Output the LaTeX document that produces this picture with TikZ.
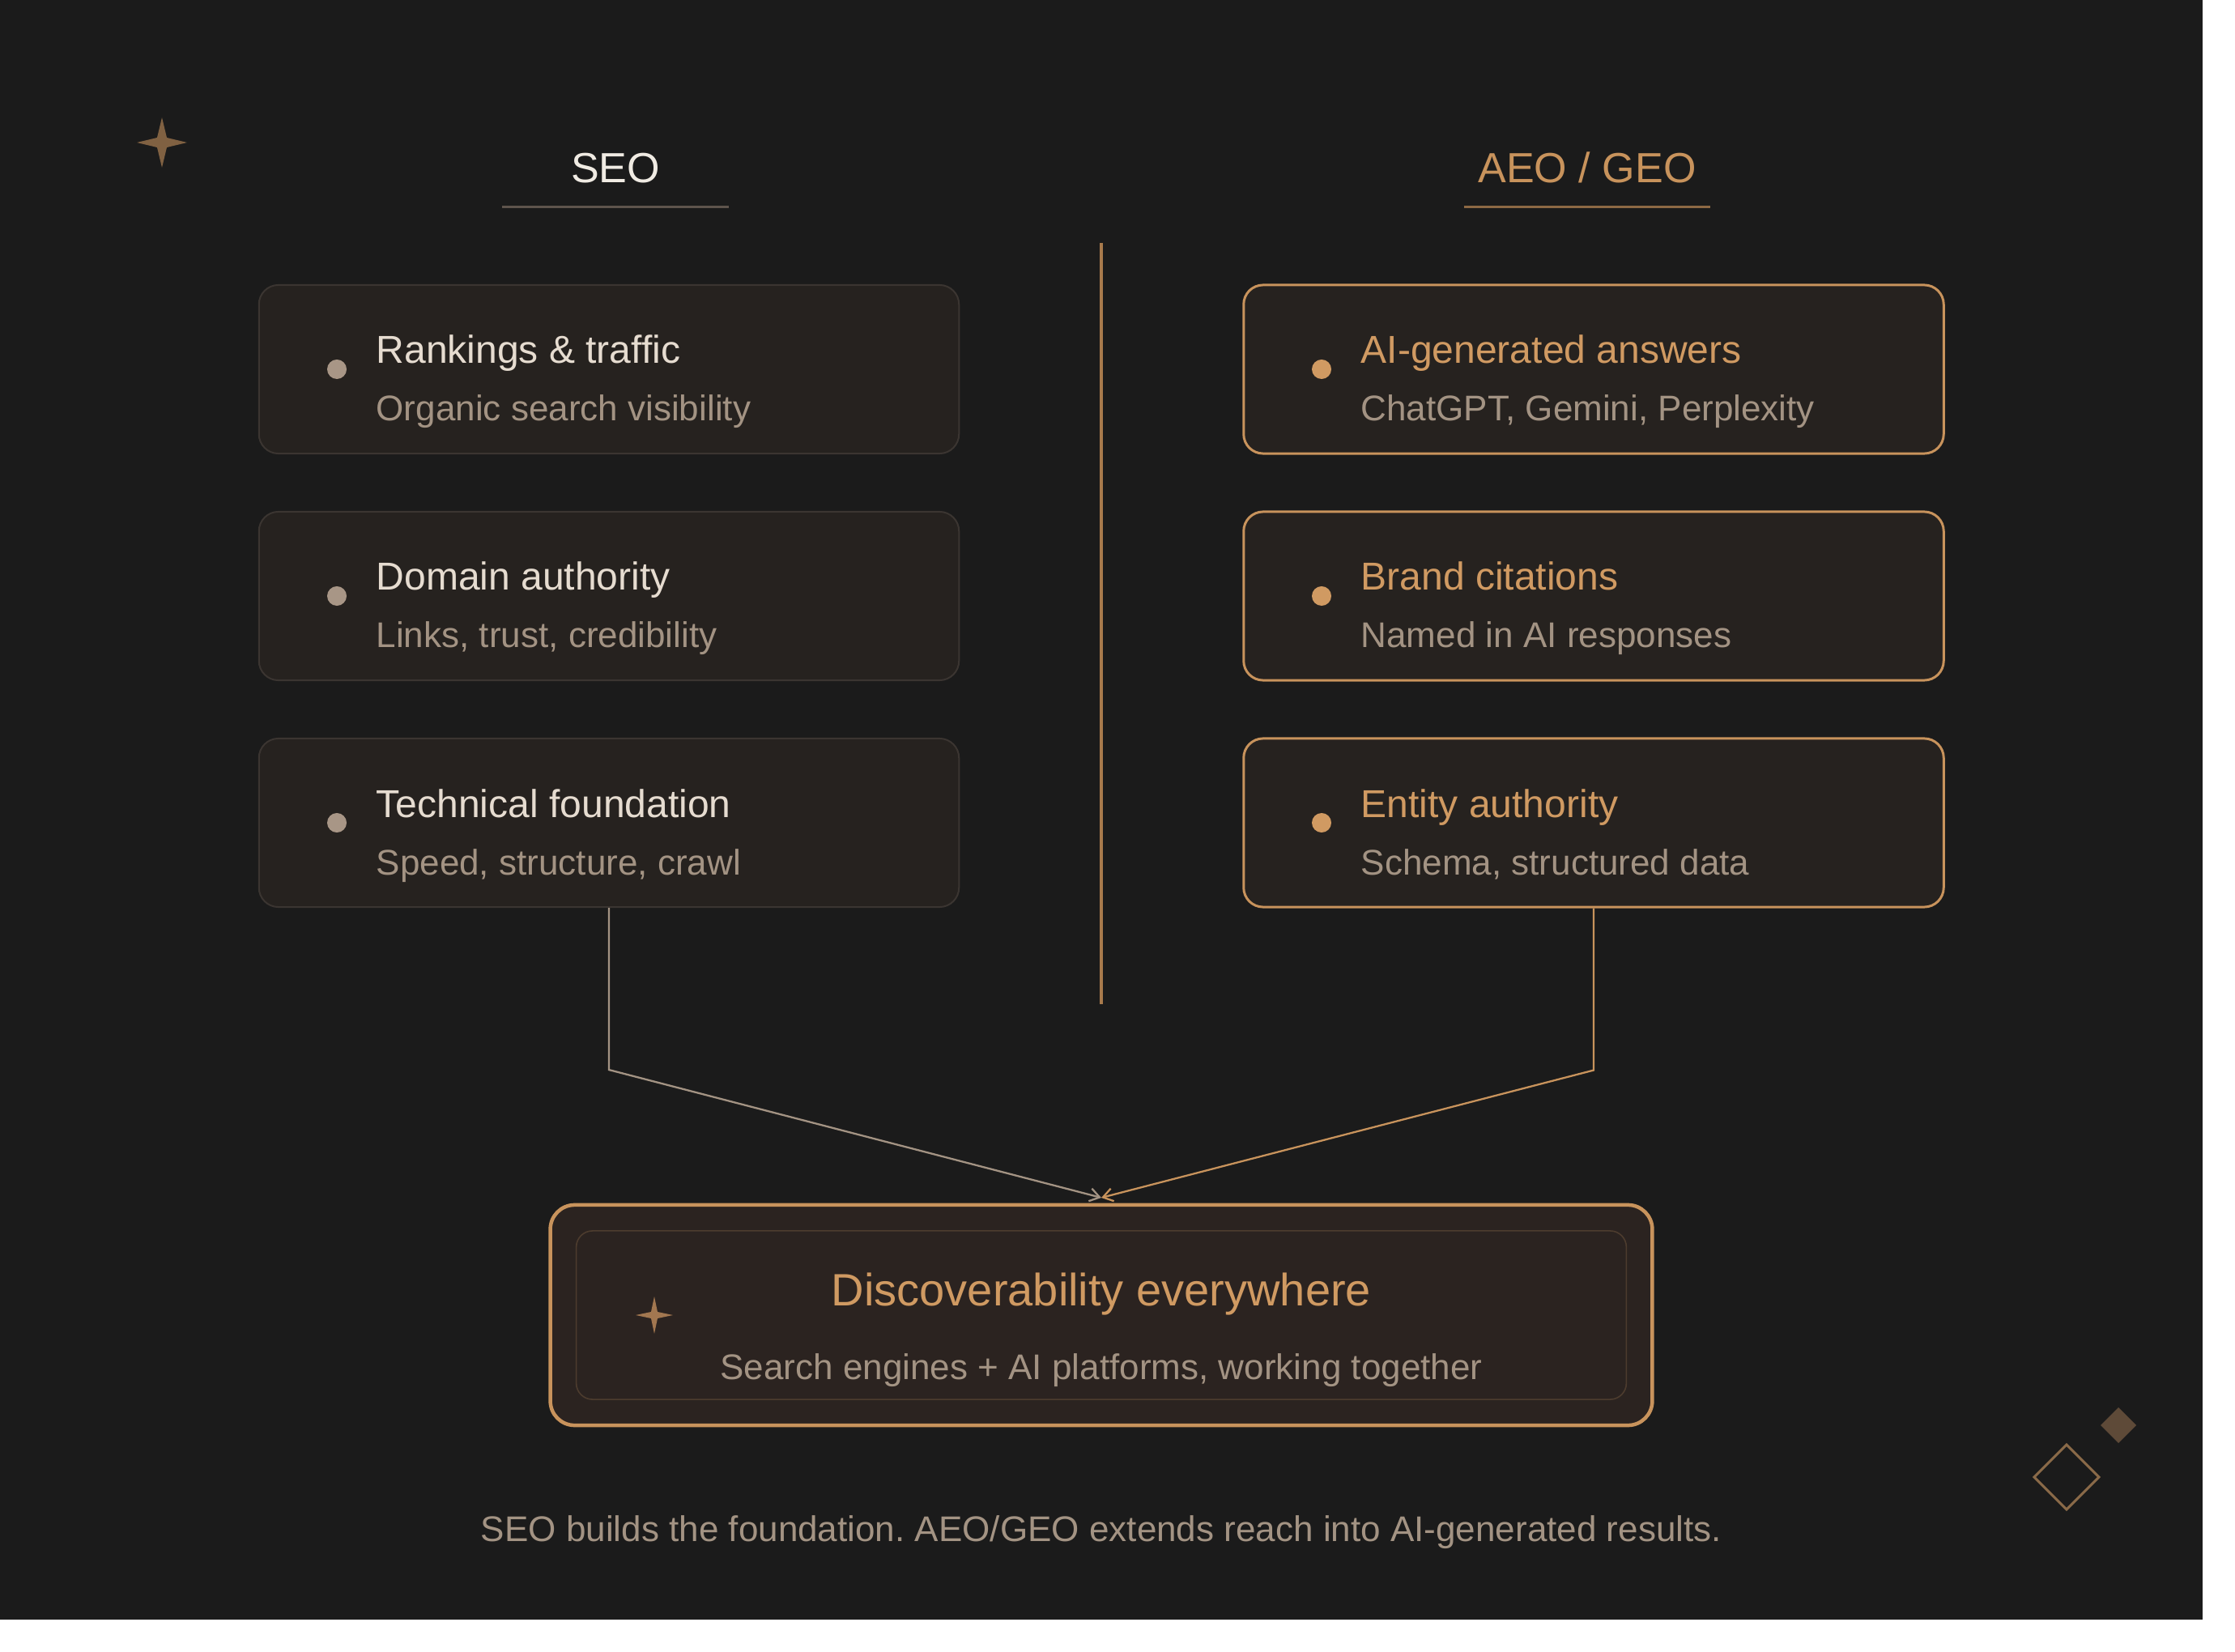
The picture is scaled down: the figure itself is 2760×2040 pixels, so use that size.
\documentclass[tikz,border=0pt]{standalone}
\usepackage{fontspec}
\setmainfont{Liberation Sans}
\usetikzlibrary{arrows.meta}
\frenchspacing

\definecolor{bgdark}{HTML}{1B1B1B}
\definecolor{cardfill}{HTML}{26221F}
\definecolor{boxfill}{HTML}{2B2320}
\definecolor{seoedge}{HTML}{3B3531}
\definecolor{geoorange}{HTML}{C8935C}
\definecolor{lighttext}{HTML}{E6DCD0}
\definecolor{headtext}{HTML}{F0EBE3}
\definecolor{softtext}{HTML}{A39383}
\definecolor{seodotc}{HTML}{A89686}
\definecolor{geodotc}{HTML}{D09A62}
\definecolor{sparklec}{HTML}{806142}
\definecolor{sparklelit}{HTML}{A27750}
\definecolor{divider}{HTML}{A87A4C}
\definecolor{markfill}{HTML}{5E4A38}
\definecolor{markedge}{HTML}{8A6A48}
\definecolor{seorule}{HTML}{5E544C}
\definecolor{georule}{HTML}{8D6944}
\definecolor{inneredge}{HTML}{4D3C2E}

\begin{document}
\begin{tikzpicture}[ >={Straight Barb[length=1.2mm,width=1.6mm]}, x=0.01cm, y=-0.01cm,
  seocard/.style={draw=seoedge, line width=0.57pt, fill=cardfill, rounded corners=0.24cm, minimum width=8.64cm, minimum height=2.08cm},
  geocard/.style={seocard, draw=geoorange, line width=0.85pt},
  seodot/.style={circle, fill=seodotc, inner sep=0pt, minimum size=0.24cm},
  geodot/.style={seodot, fill=geodotc},
  cardtitle/.style={anchor=base west, inner sep=0pt, text=lighttext, font=\fontsize{13.66pt}{16pt}\selectfont},
  geotitle/.style={cardtitle, text=geodotc},
  cardsub/.style={anchor=base west, inner sep=0pt, text=softtext, font=\fontsize{12.52pt}{15pt}\selectfont},
  headline/.style={anchor=base, inner sep=0pt, font=\fontsize{14.8pt}{17pt}\selectfont} ]

\useasboundingbox (0,0) rectangle (2760,2040);
\fill[white] (0,0) rectangle (2760,2040);
\fill[bgdark] (0,0) rectangle (2720,2000);

% corner marks
\fill[sparklec] (200,145) -- (206,170) -- (231,176) -- (206,182) -- (200,207) -- (194,182) -- (169,176) -- (194,170) -- cycle;
\fill[markfill] (2616,1738) -- (2638,1760) -- (2616,1782) -- (2594,1760) -- cycle;
\draw[line width=0.85pt, markedge] (2552,1784) -- (2592,1824) -- (2552,1864) -- (2512,1824) -- cycle;

% headings
\node[headline, text=headtext] (seohead) at (760,226) {SEO};
\draw[line width=0.85pt, seorule] (620,256) -- (900,256);
\node[headline, text=geoorange] (geohead) at (1960,226) {AEO / GEO};
\draw[line width=0.85pt, georule] (1808,256) -- (2112,256);

\draw[divider, line width=1pt] (1360,300) -- (1360,1240);

% SEO column
\node[seocard] (seoA) at (752,456) {};
\node[seodot] (seoAdot) at (416,456) {};
\node[cardtitle] (seoAtitle) at (464,449) {Rankings \& traffic};
\node[cardsub] (seoAsub) at (464,520) {Organic search visibility};

\node[seocard] (seoB) at (752,736) {};
\node[seodot] (seoBdot) at (416,736) {};
\node[cardtitle] (seoBtitle) at (464,729) {Domain authority};
\node[cardsub] (seoBsub) at (464,800) {Links, trust, credibility};

\node[seocard] (seoC) at (752,1016) {};
\node[seodot] (seoCdot) at (416,1016) {};
\node[cardtitle] (seoCtitle) at (464,1009) {Technical foundation};
\node[cardsub] (seoCsub) at (464,1080) {Speed, structure, crawl};

% AEO / GEO column
\node[geocard] (geoA) at (1968,456) {};
\node[geodot] (geoAdot) at (1632,456) {};
\node[geotitle] (geoAtitle) at (1680,449) {AI-generated answers};
\node[cardsub] (geoAsub) at (1680,520) {ChatGPT, Gemini, Perplexity};

\node[geocard] (geoB) at (1968,736) {};
\node[geodot] (geoBdot) at (1632,736) {};
\node[geotitle] (geoBtitle) at (1680,729) {Brand citations};
\node[cardsub] (geoBsub) at (1680,800) {Named in AI responses};

\node[geocard] (geoC) at (1968,1016) {};
\node[geodot] (geoCdot) at (1632,1016) {};
\node[geotitle] (geoCtitle) at (1680,1009) {Entity authority};
\node[cardsub] (geoCsub) at (1680,1080) {Schema, structured data};

% result box
\node[draw=geoorange, line width=1.28pt, fill=boxfill, rounded corners=0.3cm, minimum width=13.6cm, minimum height=2.72cm] (result) at (1360,1624) {};
\node[draw=inneredge, line width=0.45pt, rounded corners=0.2cm, minimum width=12.96cm, minimum height=2.08cm] (resultin) at (1360,1624) {};
\fill[sparklelit] (808,1601) -- (812,1620) -- (831,1624) -- (812,1628) -- (808,1647) -- (804,1628) -- (785,1624) -- (804,1620) -- cycle;
\node[anchor=base, inner sep=0pt, text=geodotc, font=\fontsize{15.93pt}{19pt}\selectfont] (resulttitle) at (1360,1612) {Discoverability everywhere};
\node[anchor=base, inner sep=0pt, text=softtext, font=\fontsize{12.52pt}{15pt}\selectfont] (resultsub) at (1360,1703) {Search engines + AI platforms, working together};

\coordinate (meet) at (1360,1479);
\draw[->, softtext, line width=0.65pt] (seoC.south) -- ++(0,200) -- (meet);
\draw[->, geoorange, line width=0.65pt] (geoC.south) -- ++(0,200) -- (meet);

\node[anchor=base, inner sep=0pt, text=softtext, font=\fontsize{12.52pt}{15pt}\selectfont] (footnote) at (1360,1903) {SEO builds the foundation. AEO/GEO extends reach into AI-generated results.};

\end{tikzpicture}
\end{document}
